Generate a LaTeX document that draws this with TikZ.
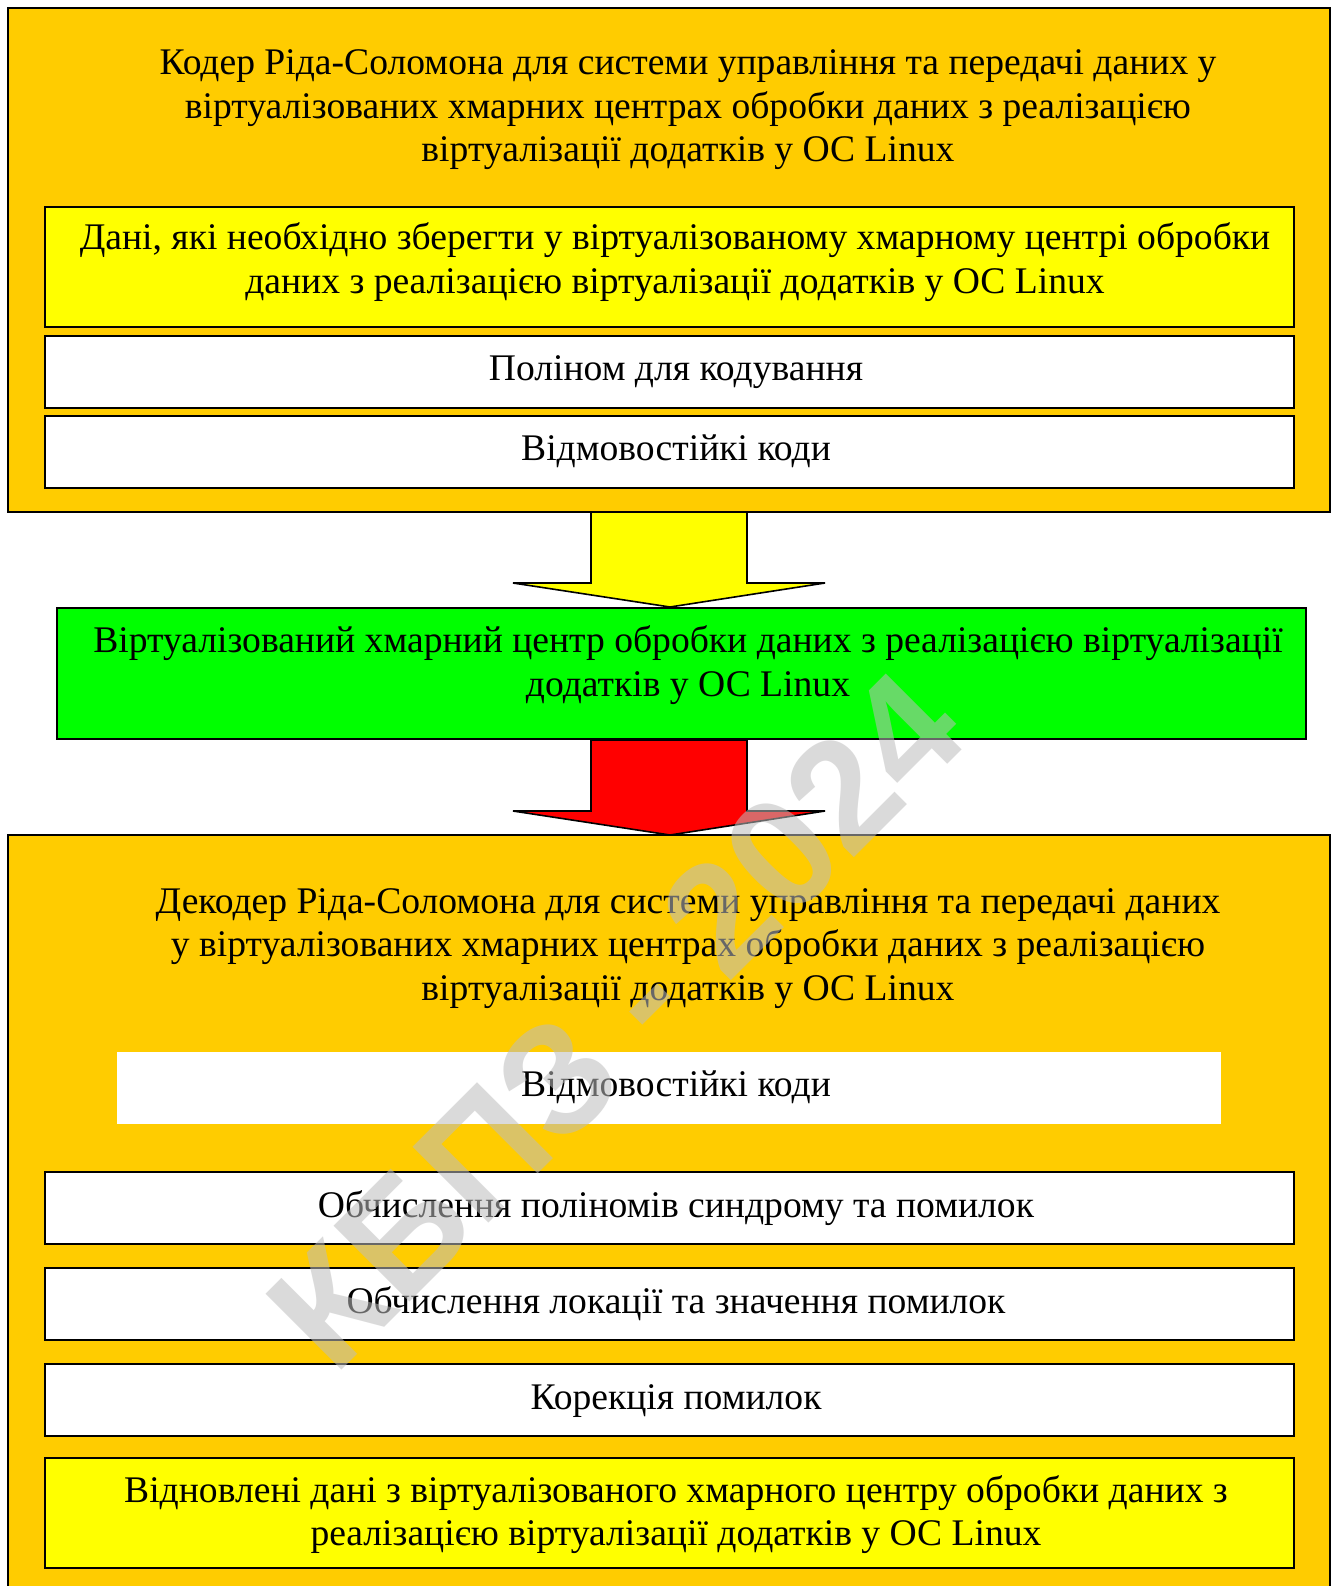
\documentclass[tikz,border=0pt]{standalone}
\usepackage{fontspec}
\setmainfont{Liberation Serif}
\newfontfamily\wmfont{Liberation Sans}
\usetikzlibrary{calc}
\definecolor{orng}{HTML}{FFCC00}
\definecolor{yelw}{HTML}{FFFF00}
\definecolor{grn}{HTML}{00FF00}
\definecolor{rd}{HTML}{FF0000}
\definecolor{wmgray}{RGB}{189,189,189}
\begin{document}
\begin{tikzpicture}[x=1pt,y=-1pt,
  box/.style={draw=black, line width=2pt, inner sep=0pt, outer sep=0pt},
  plainbox/.style={draw=none, inner sep=0pt, outer sep=0pt},
  txt/.style={font=\fontsize{37.6}{43.5}\selectfont, inner sep=0pt, anchor=base},
  blockarrow/.style={draw=black, line width=1.6pt, line join=miter},
  wmark/.style={font=\wmfont\bfseries\fontsize{156}{156}\selectfont, text=wmgray, opacity=0.55, inner sep=0pt}]
\clip (0,0) rectangle (1336,1586);
\fill[white] (0,0) rectangle (1336,1586);

% ---- encoder block
\node[box, fill=orng, minimum width=1322pt, minimum height=504pt] (enc) at (669,260) {};
\node[box, fill=yelw, minimum width=1249pt, minimum height=120pt] (data) at (669.5,267) {};
\node[box, fill=white, minimum width=1249pt, minimum height=72pt] (poly) at (669.5,372) {};
\node[box, fill=white, minimum width=1249pt, minimum height=72pt] (codesA) at (669.5,452) {};

\node[txt] (t1a) at (688,75) {Кодер Ріда-Соломона для системи управління та передачі даних у};
\node[txt] (t1b) at (688,118.5) {віртуалізованих хмарних центрах обробки даних з реалізацією};
\node[txt] (t1c) at (688,162) {віртуалізації додатків у ОС Linux};
\node[txt] (t2a) at (675,250) {Дані, які необхідно зберегти у віртуалізованому хмарному центрі обробки};
\node[txt] (t2b) at (675,293.5) {даних з реалізацією віртуалізації додатків у ОС Linux};
\node[txt] (t3) at (676,380) {Поліном для кодування};
\node[txt] (t4) at (676,460) {Відмовостійкі коди};

% ---- cloud centre
\node[box, fill=grn, minimum width=1249pt, minimum height=131pt] (cloud) at (681.5,673.5) {};
\node[txt] (t5a) at (688,652.5) {Віртуалізований хмарний центр обробки даних з реалізацією віртуалізації};
\node[txt] (t5b) at (688,696) {додатків у ОС Linux};

% ---- decoder block
\node[box, fill=orng, minimum width=1322pt, minimum height=780pt] (dec) at (669,1225) {};
\node[plainbox, fill=white, minimum width=1104pt, minimum height=72pt] (codesB) at (669,1088) {};
\node[box, fill=white, minimum width=1249pt, minimum height=72pt] (synd) at (669.5,1208) {};
\node[box, fill=white, minimum width=1249pt, minimum height=72pt] (loc) at (669.5,1304) {};
\node[box, fill=white, minimum width=1249pt, minimum height=72pt] (corr) at (669.5,1400) {};
\node[box, fill=yelw, minimum width=1249pt, minimum height=110pt] (rest) at (669.5,1513) {};

\node[txt] (t6a) at (688,913) {Декодер Ріда-Соломона для системи управління та передачі даних};
\node[txt] (t6b) at (688,956.5) {у віртуалізованих хмарних центрах обробки даних з реалізацією};
\node[txt] (t6c) at (688,1000) {віртуалізації додатків у ОС Linux};
\node[txt] (t7) at (676,1096) {Відмовостійкі коди};
\node[txt] (t8) at (676,1217) {Обчислення поліномів синдрому та помилок};
\node[txt] (t9) at (676,1313) {Обчислення локації та значення помилок};
\node[txt] (t10) at (676,1409) {Корекція помилок};
\node[txt] (t11a) at (676,1502) {Відновлені дані з віртуалізованого хмарного центру обробки даних з};
\node[txt] (t11b) at (676,1545.5) {реалізацією віртуалізації додатків у ОС Linux};

% ---- block arrows
\coordinate (a1top) at (669,512);
\coordinate (a1tip) at (670,607);
\draw[blockarrow, fill=yelw]
  ($(a1top)+(-78,0)$) -- ($(a1top)+(78,0)$) -- ($(a1tip)+(77,-24)$)
  -- ($(a1tip)+(155,-24)$) -- (a1tip) -- ($(a1tip)+(-157,-24)$)
  -- ($(a1tip)+(-79,-24)$) -- cycle;
\coordinate (a2top) at (669,740);
\coordinate (a2tip) at (670,835);
\draw[blockarrow, fill=rd]
  ($(a2top)+(-78,0)$) -- ($(a2top)+(78,0)$) -- ($(a2tip)+(77,-24)$)
  -- ($(a2tip)+(155,-24)$) -- (a2tip) -- ($(a2tip)+(-157,-24)$)
  -- ($(a2tip)+(-79,-24)$) -- cycle;
\draw[line width=2pt] (enc.south west) -- (enc.south east);

% ---- watermark
\node[wmark, rotate=45] (wm) at (616,1020) {КБПЗ - 2024};
\end{tikzpicture}
\end{document}
